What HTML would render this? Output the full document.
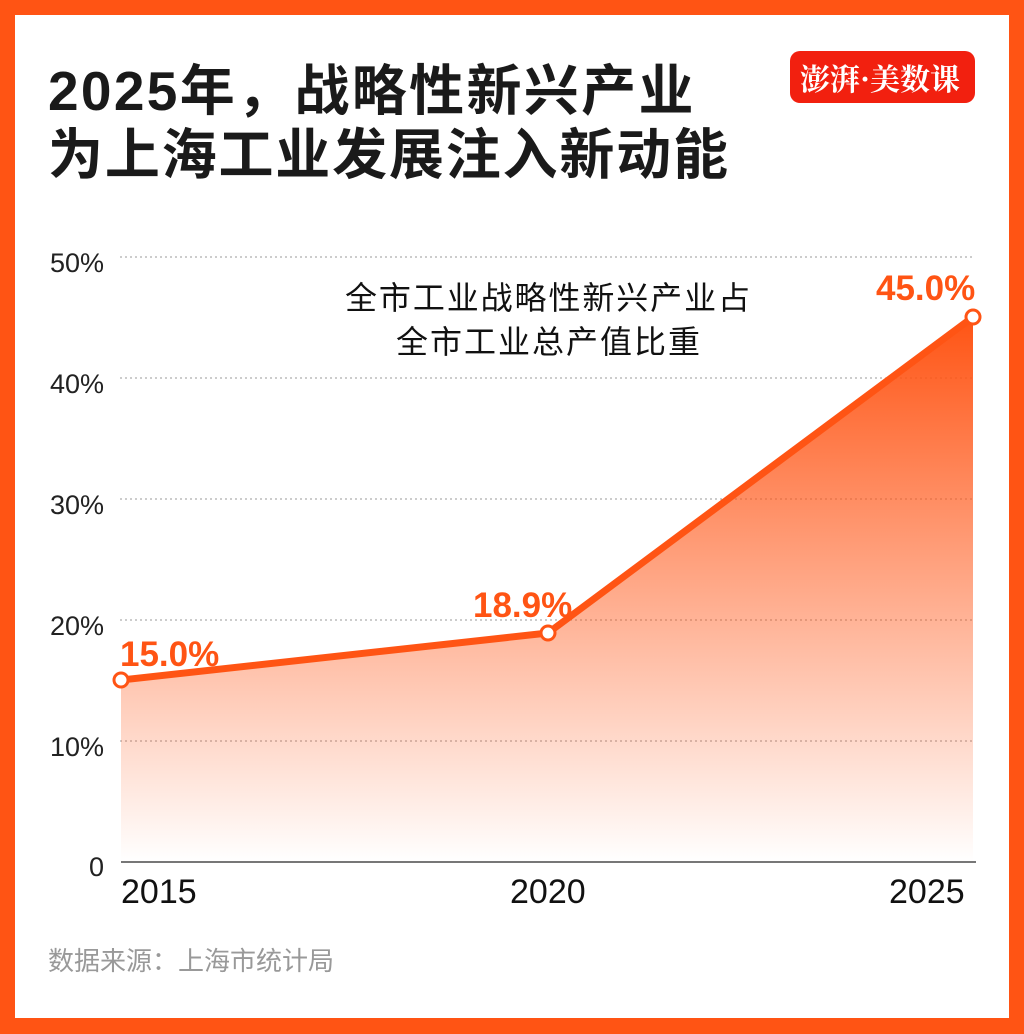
<!DOCTYPE html><html><head><meta charset="utf-8"><style>
body{margin:0;width:1024px;height:1034px;overflow:hidden;background:#fff}
.f{position:absolute;left:0;top:0;width:1024px;height:1034px;box-sizing:border-box;border:15px solid #FF5414;border-bottom-width:16px}
</style></head><body><div class="f"></div>
<svg width="1024" height="1034" style="position:absolute;left:0;top:0" font-family="'Liberation Sans','Noto Sans CJK SC',sans-serif">
<defs><linearGradient id="g" x1="0" y1="317" x2="0" y2="862" gradientUnits="userSpaceOnUse"><stop offset="0" stop-color="#FF5414"/><stop offset="1" stop-color="#FF5414" stop-opacity="0"/></linearGradient></defs>
<text x="48" y="110" font-size="55" font-weight="bold" fill="#1a1a1a" letter-spacing="1.5" textLength="647">2025年，战略性新兴产业</text>
<text x="48" y="174" font-size="55" font-weight="bold" fill="#1a1a1a" textLength="680">为上海工业发展注入新动能</text>
<rect x="790" y="51" width="185" height="52" rx="10" fill="#F2200F"/>
<text x="800" y="90" font-size="30" fill="#fff" font-weight="bold" font-family="'Noto Serif CJK SC',serif">澎湃·美数课</text>
<g stroke="#999" stroke-dasharray="2,3" stroke-width="1">
<line x1="120" x2="975" y1="257" y2="257"/><line x1="120" x2="975" y1="378" y2="378"/><line x1="120" x2="975" y1="499" y2="499"/><line x1="120" x2="975" y1="620" y2="620"/><line x1="120" x2="975" y1="741" y2="741"/></g>
<g font-size="27" fill="#222" text-anchor="end"><text x="104" y="272">50%</text><text x="104" y="393">40%</text><text x="104" y="514">30%</text><text x="104" y="635">20%</text><text x="104" y="756">10%</text><text x="104" y="876">0</text></g>
<polygon points="121,680 548,633 973,317 973,862 121,862" fill="url(#g)"/>
<line x1="121" x2="976" y1="862" y2="862" stroke="#777" stroke-width="2"/>
<polyline points="121,680 548,633 973,317" fill="none" stroke="#FF5414" stroke-width="7" stroke-linejoin="round"/>
<g fill="#fff" stroke="#FF5414" stroke-width="3"><circle cx="121" cy="680" r="7"/><circle cx="548" cy="633" r="7"/><circle cx="973" cy="317" r="7"/></g>
<g font-size="35" font-weight="bold" fill="#FF5414"><text x="120" y="666">15.0%</text><text x="473" y="617">18.9%</text><text x="876" y="300">45.0%</text></g>
<g font-size="32" fill="#111"><text x="345" y="309" textLength="405">全市工业战略性新兴产业占</text><text x="396" y="353" textLength="304">全市工业总产值比重</text></g>
<g font-size="34" fill="#111"><text x="121" y="903">2015</text><text x="510" y="903">2020</text><text x="889" y="903">2025</text></g>
<text x="48" y="970" font-size="26" fill="#999">数据来源：上海市统计局</text>
</svg></body></html>
